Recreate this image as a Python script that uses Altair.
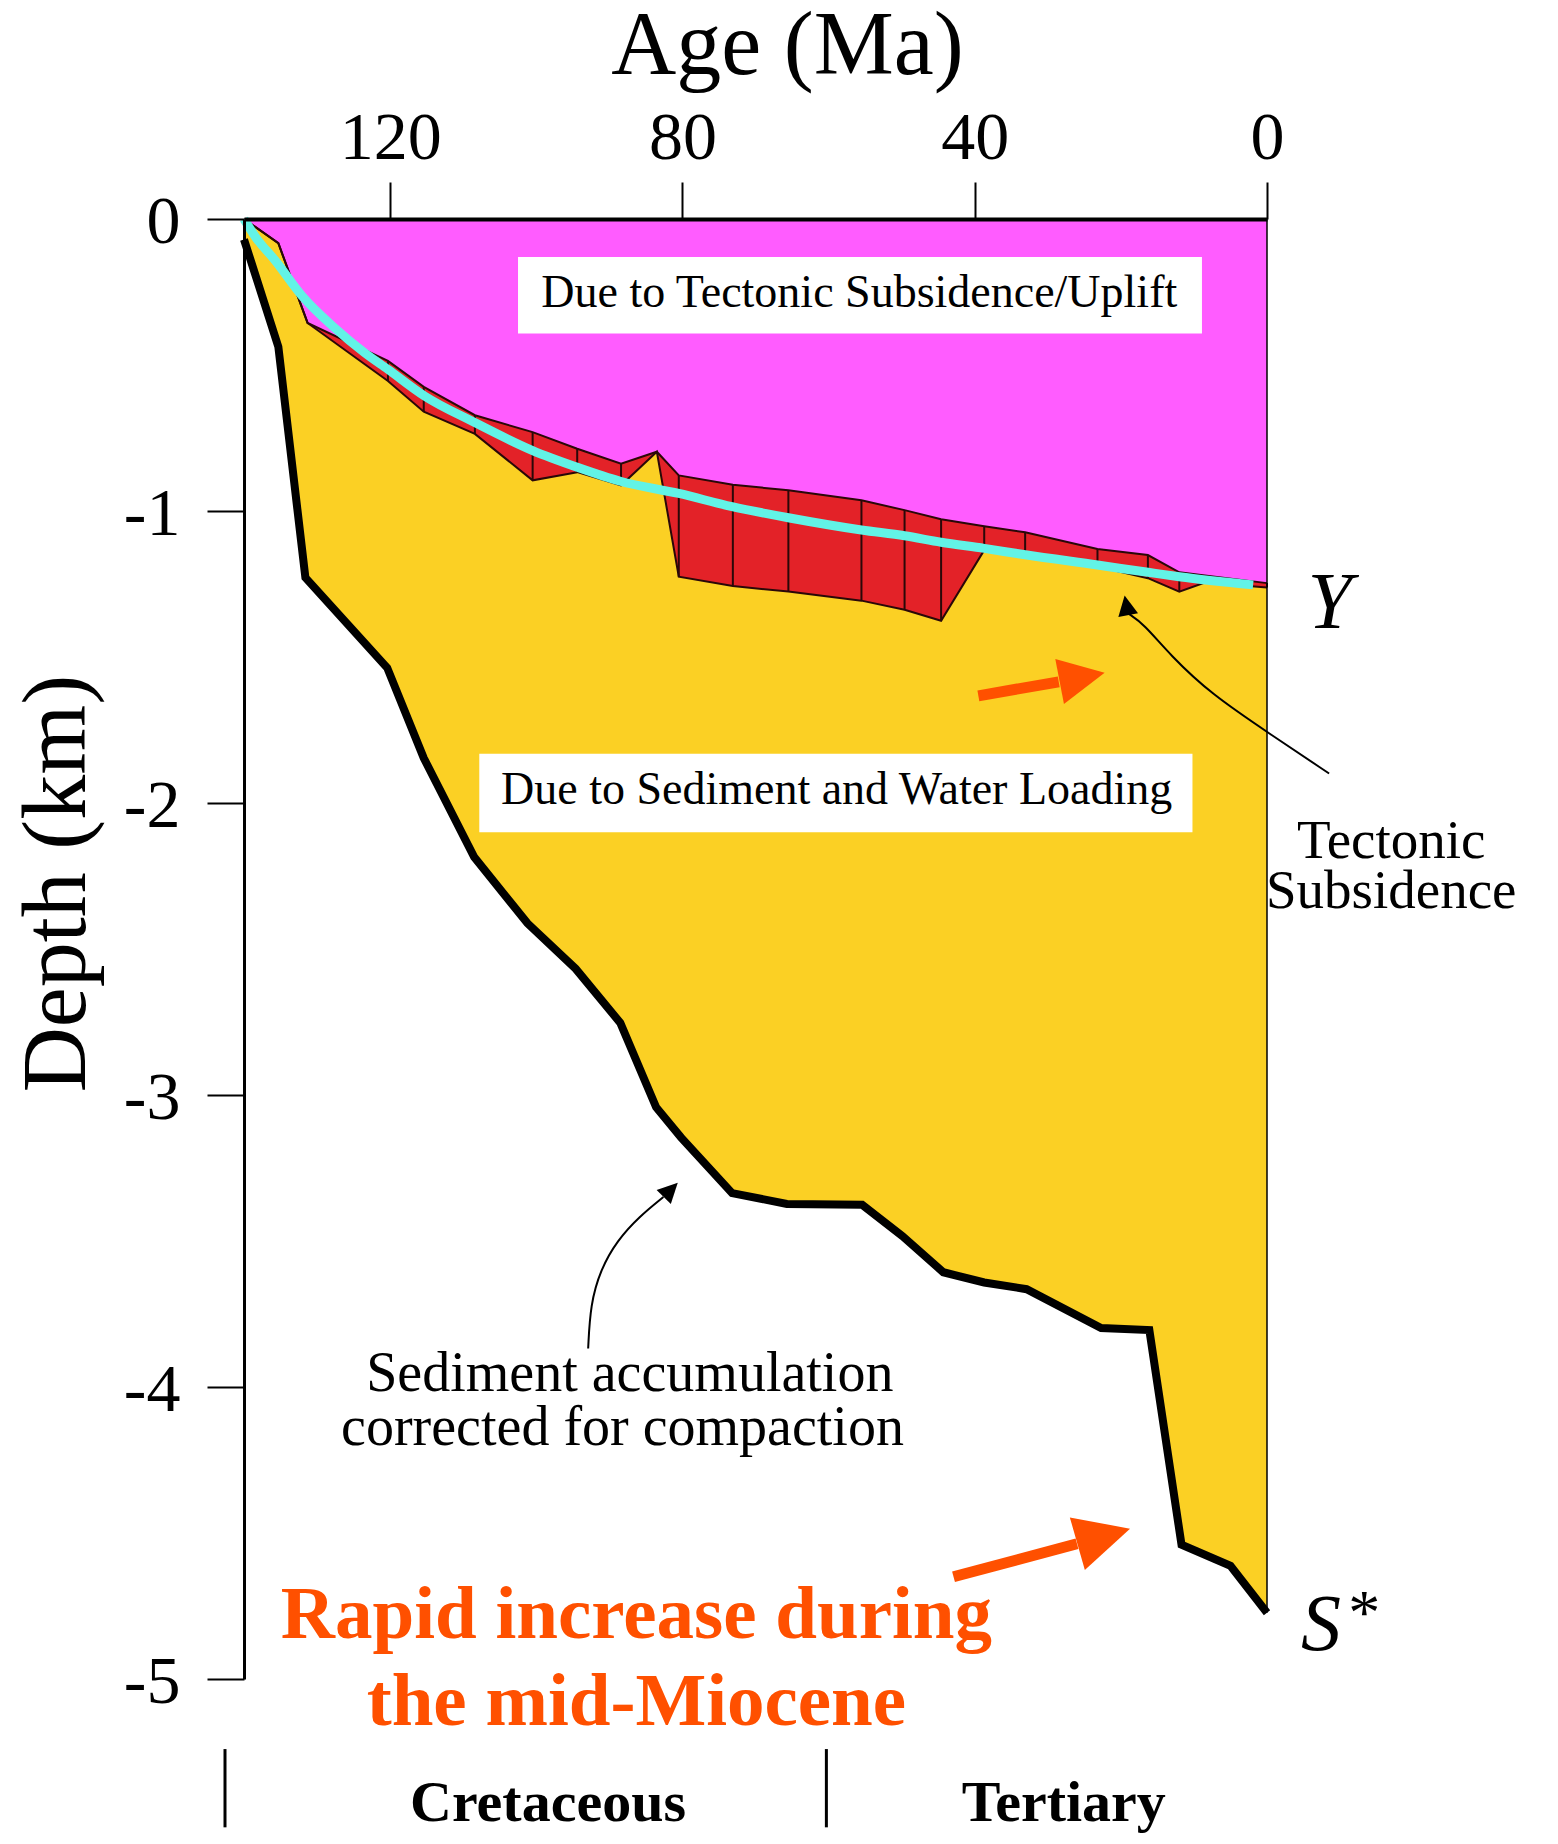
import altair as alt
import pandas as pd

FONT = "Liberation Serif"

# ---------------- data ----------------
# sediment accumulation corrected for compaction (S*)
sed_age = [140, 135.3, 131.6, 120.4, 115.4, 108.5, 101.2, 94.6, 88.5, 83.6, 80.2, 73.2,
           65.7, 55.4, 49.9, 44.3, 38.7, 32.9, 22.7, 16.1, 11.7, 5.0, 0]
sed_depth = [-0.07, -0.438, -1.228, -1.537, -1.846, -2.185, -2.412, -2.568, -2.753, -3.042, -3.145, -3.336,
             -3.373, -3.376, -3.483, -3.607, -3.642, -3.665, -3.798, -3.805, -4.540, -4.612, -4.773]

# tectonic subsidence band (top = magenta edge, bottom = lower edge of red band)
tec_age = [140, 135.3, 131.3, 120.3, 115.4, 108.4, 100.5, 94.4, 88.4, 83.5, 80.5, 73.1,
           65.5, 55.5, 49.6, 44.6, 38.7, 33.1, 23.2, 16.3, 12.0, 8.5, 0]
tec_top = [0, -0.083, -0.356, -0.486, -0.575, -0.672, -0.73, -0.787, -0.838, -0.797, -0.878, -0.91,
           -0.929, -0.963, -0.997, -1.028, -1.052, -1.073, -1.13, -1.151, -1.21, -1.221, -1.247]
tec_bottom = [0, -0.083, -0.356, -0.555, -0.66, -0.736, -0.895, -0.867, -0.912, -0.797, -1.225, -1.257,
              -1.276, -1.307, -1.338, -1.376, -1.134, -1.14, -1.19, -1.23, -1.276, -1.245, -1.262]

# smooth tectonic subsidence curve (Y)
cyan_age = [140, 138.3, 135.8, 132.0, 127.5, 123.5, 120.3, 115.3, 108.5, 100.5, 94.4, 88.5,
            80.5, 73.2, 65.5, 55.5, 49.6, 44.6, 38.7, 33.1, 23.2, 16.3, 12.0, 1.9]
cyan_depth = [0, -0.066, -0.14, -0.265, -0.375, -0.458, -0.515, -0.606, -0.696, -0.793, -0.85, -0.898,
              -0.94, -0.985, -1.023, -1.065, -1.085, -1.107, -1.128, -1.15, -1.185, -1.21, -1.225, -1.253]

# label boxes
box_age1 = [102.5, 107.8]
box_age2 = [8.9, 10.2]
box_top = [-0.13, -1.831]
box_bottom = [-0.392, -2.10]

# plain annotation text
note_text = ["Due to Tectonic Subsidence/Uplift", "Due to Sediment and Water Loading",
             "Tectonic", "Subsidence", "Sediment accumulation", "corrected for compaction"]
note_age = [55.8, 58.9, -17.0, -17.0, 87.2, 88.2]
note_depth = [-0.30, -2.003, -2.188, -2.358, -4.012, -4.199]
note_size = [46, 46, 55, 55, 56, 56]

# italic curve labels
ital_text = ["Y", "S"]
ital_age = [-8.6, -7.4]
ital_depth = [-1.401, -4.90]
star_text = ["*"]
star_age = [-13.3]
star_depth = [-4.845]

# orange highlight text
hl_text = ["Rapid increase during", "the mid-Miocene"]
hl_age = [86.3, 86.3]
hl_depth = [-4.858, -5.157]

# geologic periods
period_text = ["Cretaceous", "Tertiary"]
period_age = [98.4, 27.8]
period_depth = [-5.486, -5.486]
bound_age = [142.6, 60.3]
bound_top = [-5.24, -5.24]
bound_bottom = [-5.508, -5.508]

# orange arrows (shaft from -> to, head centre, direction, size)
oarrow_a1 = [39.5, 42.9]
oarrow_d1 = [-1.633, -4.650]
oarrow_a2 = [28.5, 26.0]
oarrow_d2 = [-1.585, -4.537]
ohead_age = [25.3, 22.35]
ohead_depth = [-1.569, -4.511]
ohead_angle = [349.1, 344.1]
ohead_size = [2100, 3000]

# thin black curved pointer arrows
curve_id = ["t", "t", "t", "t", "t", "t", "s", "s", "s", "s", "s", "s"]
curve_i = [0, 1, 2, 3, 4, 5, 0, 1, 2, 3, 4, 5]
curve_age = [-8.5, -0.5, 7.6, 13.2, 16.9, 19.0, 92.9, 92.6, 91.2, 88.9, 85.9, 82.6]
curve_depth = [-1.899, -1.765, -1.628, -1.495, -1.386, -1.351,
               -3.868, -3.718, -3.597, -3.497, -3.416, -3.349]
bhead_age = [19.24, 81.6]
bhead_depth = [-1.323, -3.325]
bhead_angle = [259.7, 314.6]

# ---------------- tables ----------------
sed_df = pd.DataFrame({"age": sed_age, "S": sed_depth})
tec_df = pd.DataFrame({"age": tec_age, "top": tec_top, "bottom": tec_bottom})
cyan_df = pd.DataFrame({"age": cyan_age, "Y": cyan_depth})
box_df = pd.DataFrame({"a1": box_age1, "a2": box_age2, "d1": box_top, "d2": box_bottom})
note_df = pd.DataFrame({"age": note_age, "depth": note_depth, "label": note_text, "size": note_size})
ital_df = pd.DataFrame({"age": ital_age, "depth": ital_depth, "label": ital_text})
star_df = pd.DataFrame({"age": star_age, "depth": star_depth, "label": star_text})
hl_df = pd.DataFrame({"age": hl_age, "depth": hl_depth, "label": hl_text})
period_df = pd.DataFrame({"age": period_age, "depth": period_depth, "label": period_text})
bound_df = pd.DataFrame({"age": bound_age, "d1": bound_top, "d2": bound_bottom})
oarrow_df = pd.DataFrame({"a1": oarrow_a1, "d1": oarrow_d1, "a2": oarrow_a2, "d2": oarrow_d2})
ohead_df = pd.DataFrame({"age": ohead_age, "depth": ohead_depth, "ang": ohead_angle, "sz": ohead_size})
curve_df = pd.DataFrame({"id": curve_id, "i": curve_i, "age": curve_age, "depth": curve_depth})
bhead_df = pd.DataFrame({"age": bhead_age, "depth": bhead_depth, "ang": bhead_angle})

# ---------------- scales / axes ----------------
xs = alt.Scale(domain=[140, 0], nice=False, zero=False)
ys = alt.Scale(domain=[-5, 0], nice=False, zero=False)

x_axis = alt.Axis(orient="top", values=[120, 80, 40, 0], title="Age (Ma)",
                  titleFont=FONT, titleFontSize=90, titleFontWeight="normal", titleColor="black",
                  titleX=543, titleY=-146, titleAlign="center", titleBaseline="alphabetic",
                  labelFont=FONT, labelFontSize=68, labelColor="black", labelPadding=10,
                  labelFlush=False, labelOverlap=False,
                  tickSize=37, tickWidth=2, tickColor="black",
                  domainColor="black", domainWidth=4, grid=False, zindex=1)
y_axis = alt.Axis(orient="left", values=[0, -1, -2, -3, -4, -5], labelExpr="'' + datum.value",
                  title="Depth (km)", titleFont=FONT, titleFontSize=90, titleFontWeight="normal",
                  titleColor="black", titleAngle=270, titleX=-160, titleY=664,
                  titleAlign="center", titleBaseline="alphabetic",
                  labelFont=FONT, labelFontSize=68, labelColor="black", labelPadding=27,
                  labelFlush=False, labelOverlap=False, labelOffset=3,
                  tickSize=37, tickWidth=2, tickColor="black",
                  domainColor="black", domainWidth=3, grid=False, zindex=1)


def X(f):
    return alt.X(f, type="quantitative", scale=xs, axis=x_axis)


def Y(f):
    return alt.Y(f, type="quantitative", scale=ys, axis=y_axis)


MAGENTA = "#FF5CFF"
YELLOW = "#FBD024"
RED = "#E32228"
CYAN = "#62F3E6"
ORANGE = "#FF5000"
EDGE = "#2a0808"
ARROW = "M1,0L-1,-1L-1,1Z"

# ---------------- layers ----------------
yellow = alt.Chart(sed_df).mark_area(color=YELLOW, opacity=1).encode(
    x=X("age"), y=Y("S"), y2=alt.datum(0))
magenta = alt.Chart(tec_df).mark_area(color=MAGENTA, opacity=1).encode(
    x=X("age"), y=Y("top"), y2=alt.datum(0))
red = alt.Chart(tec_df).mark_area(color=RED, opacity=1).encode(
    x=X("age"), y=Y("top"), y2="bottom:Q")
top_line = alt.Chart(tec_df).mark_line(color=EDGE, strokeWidth=2).encode(x=X("age"), y=Y("top"))
bot_line = alt.Chart(tec_df).mark_line(color=EDGE, strokeWidth=2).encode(x=X("age"), y=Y("bottom"))
dividers = alt.Chart(tec_df).transform_filter("datum.age != 8.5").mark_rule(
    color=EDGE, strokeWidth=2).encode(x=X("age"), y=Y("top"), y2="bottom:Q")
cyan = alt.Chart(cyan_df).mark_line(color=CYAN, strokeWidth=9, interpolate="monotone").encode(
    x=X("age"), y=Y("Y"))
sed_line = alt.Chart(sed_df).mark_line(color="black", strokeWidth=8).encode(x=X("age"), y=Y("S"))
right_edge = alt.Chart(sed_df).transform_filter("datum.age == 0").mark_rule(
    color="black", strokeWidth=1.5).encode(x=X("age"), y=Y("S"), y2=alt.datum(0))

boxes = alt.Chart(box_df).mark_rect(color="white", opacity=1).encode(
    x=X("a1"), x2="a2:Q", y=Y("d1"), y2="d2:Q")

notes = alt.Chart(note_df).mark_text(font=FONT, color="black", align="center",
                                     baseline="alphabetic").encode(
    x=X("age"), y=Y("depth"), text="label:N", size=alt.Size("size:Q", scale=None))
ital = alt.Chart(ital_df).mark_text(font=FONT, fontStyle="italic", fontSize=80, color="black",
                                    align="center", baseline="alphabetic").encode(
    x=X("age"), y=Y("depth"), text="label:N")
star = alt.Chart(star_df).mark_text(font=FONT, fontSize=64, color="black",
                                    align="center", baseline="alphabetic").encode(
    x=X("age"), y=Y("depth"), text="label:N")
hl = alt.Chart(hl_df).mark_text(font=FONT, fontWeight="bold", fontSize=75, color=ORANGE,
                                align="center", baseline="alphabetic").encode(
    x=X("age"), y=Y("depth"), text="label:N")
periods = alt.Chart(period_df).mark_text(font=FONT, fontWeight="bold", fontSize=58, color="black",
                                         align="center", baseline="alphabetic").encode(
    x=X("age"), y=Y("depth"), text="label:N")
bounds = alt.Chart(bound_df).mark_rule(color="black", strokeWidth=3).encode(
    x=X("age"), y=Y("d1"), y2="d2:Q")

oshaft = alt.Chart(oarrow_df).mark_rule(color=ORANGE, strokeWidth=11).encode(
    x=X("a1"), x2="a2:Q", y=Y("d1"), y2="d2:Q")
ohead = alt.Chart(ohead_df).mark_point(shape=ARROW, filled=True, color=ORANGE, opacity=1,
                                       strokeWidth=0).encode(
    x=X("age"), y=Y("depth"),
    size=alt.Size("sz:Q", scale=None), angle=alt.Angle("ang:Q", scale=None))

curves = alt.Chart(curve_df).mark_line(color="black", strokeWidth=2, interpolate="basis").encode(
    x=X("age"), y=Y("depth"), detail="id:N", order="i:Q")
bhead = alt.Chart(bhead_df).mark_point(shape=ARROW, filled=True, color="black", opacity=1,
                                       strokeWidth=0, size=400).encode(
    x=X("age"), y=Y("depth"), angle=alt.Angle("ang:Q", scale=None))

chart = alt.layer(
    yellow, magenta, red, top_line, bot_line, dividers, cyan, sed_line, right_edge,
    boxes, notes, ital, star, hl, periods, bounds, oshaft, ohead, curves, bhead,
).properties(
    width=1023, height=1460,
    padding={"left": 236, "top": 211, "right": 283, "bottom": 157},
    autosize=alt.AutoSizeParams(type="none"),
    background="white",
).configure_view(stroke=None)

chart.save("out.html", embed_options={"renderer": "svg", "actions": False})
